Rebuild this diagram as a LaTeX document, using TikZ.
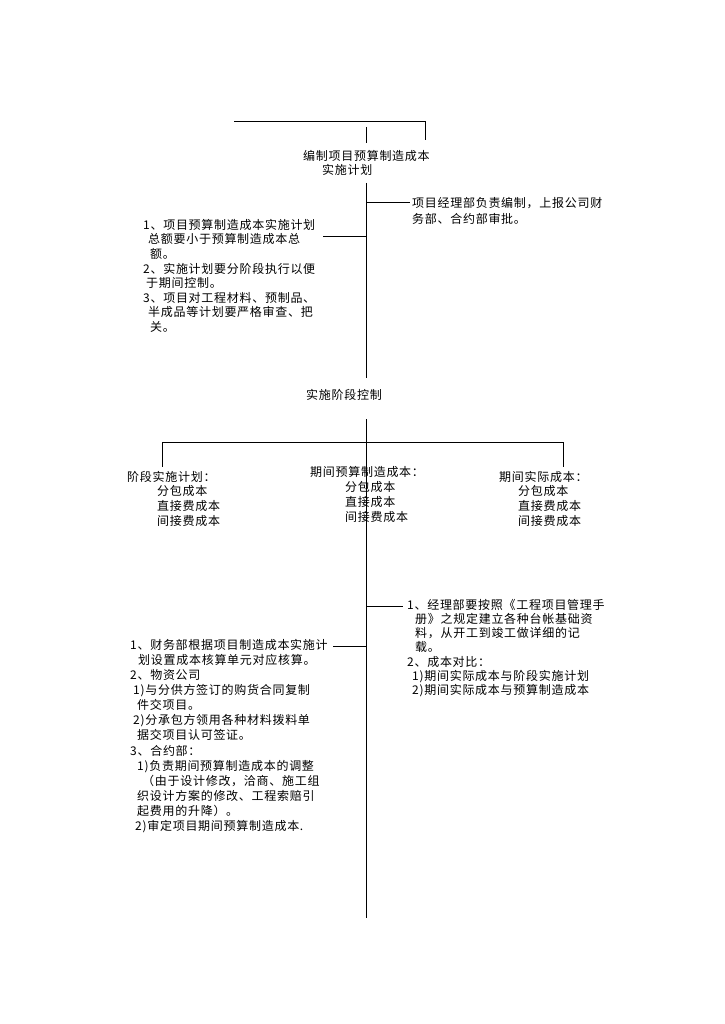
\documentclass[tikz,border=0pt]{standalone}
\usepackage{fontspec}
\newfontfamily\cjk[LetterSpace=6]{Noto Sans CJK SC}
\usetikzlibrary{positioning}

\tikzset{
  txt/.style={inner sep=0pt, anchor=north west, align=left,
    font=\cjk\fontsize{12}{14.6}\selectfont},
  lbl/.style={inner sep=0pt, font=\cjk\fontsize{12}{14.6}\selectfont},
  wire/.style={line width=1pt}
}

\begin{document}
\begin{tikzpicture}[x=1pt, y=-1pt]
  \useasboundingbox (0,0) rectangle (724,1024);

  % top part
  \node[txt, font=\cjk\fontsize{12}{14}\selectfont] (title) at (303,150) {编制项目预算制造成本\\\hspace*{19pt}实施计划};
  \coordinate (topL) at (234,122);
  \coordinate (topR) at (425,122);
  \coordinate (topD) at (425,140);
  \coordinate (titleUp) at (366,127);
  \coordinate (titleUpEnd) at (366,143);
  \draw[wire] (topL) -- (topR) -- (topD);
  \draw[wire] (titleUp) -- (titleUpEnd);

  \node[txt, font=\cjk\fontsize{12}{16}\selectfont] (report) at (412,197) {项目经理部负责编制，上报公司财\\务部、合约部审批。};
  \node[txt] (rules) at (143,219) {1、项目预算制造成本实施计划\\
    \hspace*{5pt}总额要小于预算制造成本总\\
    \hspace*{7pt}额。\\
    2、实施计划要分阶段执行以便\\
    \hspace*{3pt}于期间控制。\\
    3、项目对工程材料、预制品、\\
    \hspace*{5pt}半成品等计划要严格审查、把\\
    \hspace*{7pt}关。};

  \coordinate (trunkA) at (366,183);
  \coordinate (trunkB) at (366,378);
  \coordinate (jReport) at (366,203);
  \coordinate (jRules) at (366,236);
  \coordinate (reportIn) at (410,203);
  \coordinate (rulesIn) at (323,236);
  \draw[wire] (trunkA) -- (trunkB);
  \draw[wire] (jReport) -- (reportIn);
  \draw[wire] (jRules) -- (rulesIn);

  % stage control
  \node[lbl] (stage) at (344,395) {实施阶段控制};
  \coordinate (trunkC) at (366,419);
  \coordinate (trunkD) at (366,918);
  \coordinate (barM) at (366,442);
  \coordinate (barL) at (162,442);
  \coordinate (barR) at (563,442);
  \draw[wire] (trunkC) -- (trunkD);
  \draw[wire] (barL) -- (barR);
  \draw[wire] (barL) -- ++(0,25);
  \draw[wire] (barR) -- ++(0,25);

  \node[txt] (plan) at (127,471) {阶段实施计划：\\
    \hspace*{30pt}分包成本\\
    \hspace*{30pt}直接费成本\\
    \hspace*{30pt}间接费成本};
  \node[txt, font=\cjk\fontsize{12}{15}\selectfont] (budget) at (310,466) {期间预算制造成本：\\
    \hspace*{35pt}分包成本\\
    \hspace*{35pt}直接成本\\
    \hspace*{35pt}间接费成本};
  \node[txt] (actual) at (499,471) {期间实际成本：\\
    \hspace*{19pt}分包成本\\
    \hspace*{19pt}直接费成本\\
    \hspace*{19pt}间接费成本};

  % lower branches
  \node[txt, font=\cjk\fontsize{12}{14.2}\selectfont] (check) at (407,599) {1、经理部要按照《工程项目管理手\\
    \hspace*{8pt}册》之规定建立各种台帐基础资\\
    \hspace*{8pt}料，从开工到竣工做详细的记\\
    \hspace*{8pt}载。\\
    2、成本对比：\\
    \hspace*{5pt}1)期间实际成本与阶段实施计划\\
    \hspace*{5pt}2)期间实际成本与预算制造成本};
  \node[txt, font=\cjk\fontsize{12}{15.1}\selectfont] (dept) at (130,639) {1、财务部根据项目制造成本实施计\\
    \hspace*{8pt}划设置成本核算单元对应核算。\\
    2、物资公司\\
    \hspace*{3pt}1)与分供方签订的购货合同复制\\
    \hspace*{7pt}件交项目。\\
    \hspace*{3pt}2)分承包方领用各种材料拨料单\\
    \hspace*{7pt}据交项目认可签证。\\
    3、合约部：\\
    \hspace*{7pt}1)负责期间预算制造成本的调整\\
    \hspace*{12pt}（由于设计修改，洽商、施工组\\
    \hspace*{7pt}织设计方案的修改、工程索赔引\\
    \hspace*{7pt}起费用的升降）。\\
    \hspace*{5pt}2)审定项目期间预算制造成本.};

  \coordinate (jCheck) at (366,606);
  \coordinate (checkIn) at (403,606);
  \coordinate (jDept) at (366,646);
  \coordinate (deptIn) at (333,646);
  \draw[wire] (jCheck) -- (checkIn);
  \draw[wire] (jDept) -- (deptIn);
\end{tikzpicture}
\end{document}
